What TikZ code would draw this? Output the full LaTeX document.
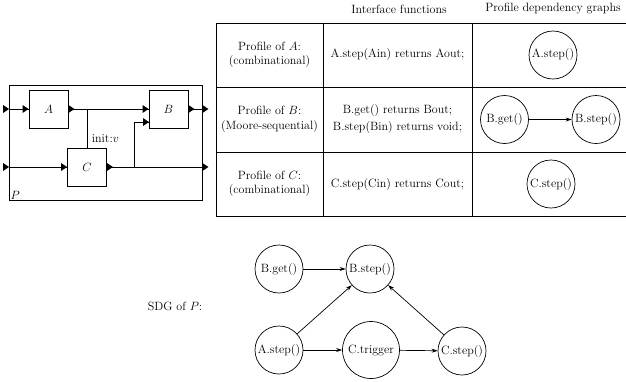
\documentclass[tikz,border=0pt]{standalone}
\usetikzlibrary{arrows.meta}
\begin{document}
\begin{tikzpicture}[x=1pt,y=-1pt,
  font=\fontsize{12}{14}\selectfont,
  line width=0.8pt,
  blk/.style={draw, minimum width=39pt, minimum height=38pt, inner sep=0pt},
  frm/.style={draw, minimum width=192.5pt, minimum height=115.5pt, inner sep=0pt},
  fn/.style={draw, circle, minimum size=48pt, inner sep=0pt, line width=0.7pt},
  dep/.style={-{Stealth[length=6pt,width=4pt]}, line width=0.7pt},
  port/.pic={\fill (0,-4) -- (6,0) -- (0,4) -- cycle;}]
\useasboundingbox (0,0) rectangle (626,381);

% ---- block diagram of P ----
\node[frm] (frame) at (105.75,142.75) {};
\node[blk] (A) at (48.5,109) {$A$};
\node[blk] (B) at (168.5,109) {$B$};
\node[blk] (C) at (87,167) {$C$};
\node[anchor=south west, inner sep=1pt] (Plabel) at (frame.south west) {$P$};
\node[anchor=west, inner sep=0pt] (init) at (91.5,139) {init:$v$};

\coordinate (in1) at (frame.west |- A.west);
\coordinate (in2) at (frame.west |- C.west);
\coordinate (out1) at (frame.east |- B.east);
\coordinate (out2) at (frame.east |- C.east);
\coordinate (tap) at (A.east -| C.north);
\coordinate (fork) at (134.5,167);
\coordinate (Bin2) at (149,122);

\draw (in1) -- (A.west);
\draw (A.east) -- (B.west);
\draw (tap) -- (C.north);
\draw (in2) -- (C.west);
\draw (C.east) -- (out2);
\draw (fork) |- (Bin2);
\draw (B.east) -- (out1);

% ports
\pic at ([xshift=-6pt]in1) {port};
\pic at ([xshift=-6pt]in2) {port};
\pic at ([xshift=-6pt]A.west) {port};
\pic at (A.east) {port};
\pic at ([xshift=-6pt]B.west) {port};
\pic at ([xshift=-6pt]Bin2) {port};
\pic at (B.east) {port};
\pic at ([xshift=-6pt]C.west) {port};
\pic at (C.east) {port};
\pic at (out1) {port};
\pic at (out2) {port};

% ---- profile table ----
\node (h2) at (399,9) {Interface functions};
\node (h3) at (553,9) {Profile dependency graphs};
\foreach \y in {23,87,152,216} \draw (216,\y) -- (626,\y);
\foreach \x in {216,323,472} \draw (\x,23) -- (\x,216);

\node[align=center] (pa) at (269.5,55) {Profile of $A$:\\(combinational)};
\node (ia) at (397.5,55) {A.step(Ain) returns Aout;};
\node[fn] (ga) at (553,55) {A.step()};

\node[align=center] (pb) at (269.5,119.5) {Profile of $B$:\\[1pt](Moore-sequential)};
\node[align=center] (ib) at (397.5,119.5) {B.get() returns Bout;\\[3pt]B.step(Bin) returns void;};
\node[fn] (gb1) at (504.5,119.5) {B.get()};
\node[fn] (gb2) at (596,119.5) {B.step()};
\draw[dep] (gb1) -- (gb2);

\node[align=center] (pc) at (269.5,184) {Profile of $C$:\\(combinational)};
\node (ic) at (397.5,184) {C.step(Cin) returns Cout;};
\node[fn] (gc) at (551,184) {C.step()};

% ---- scheduling dependency graph of P ----
\node (sdg) at (175,306) {SDG of $P$:};
\node[fn] (sb) at (279,269) {B.get()};
\node[fn] (ss) at (370,269) {B.step()};
\node[fn] (sa) at (279,350) {A.step()};
\node[fn, minimum size=57pt] (st) at (371,350) {C.trigger};
\node[fn] (sc) at (462,351) {C.step()};
\draw[dep] (sb) -- (ss);
\draw[dep] (sa) -- (ss);
\draw[dep] (sa) -- (st);
\draw[dep] (st) -- (sc);
\draw[dep] (sc) -- (ss);
\end{tikzpicture}
\end{document}
